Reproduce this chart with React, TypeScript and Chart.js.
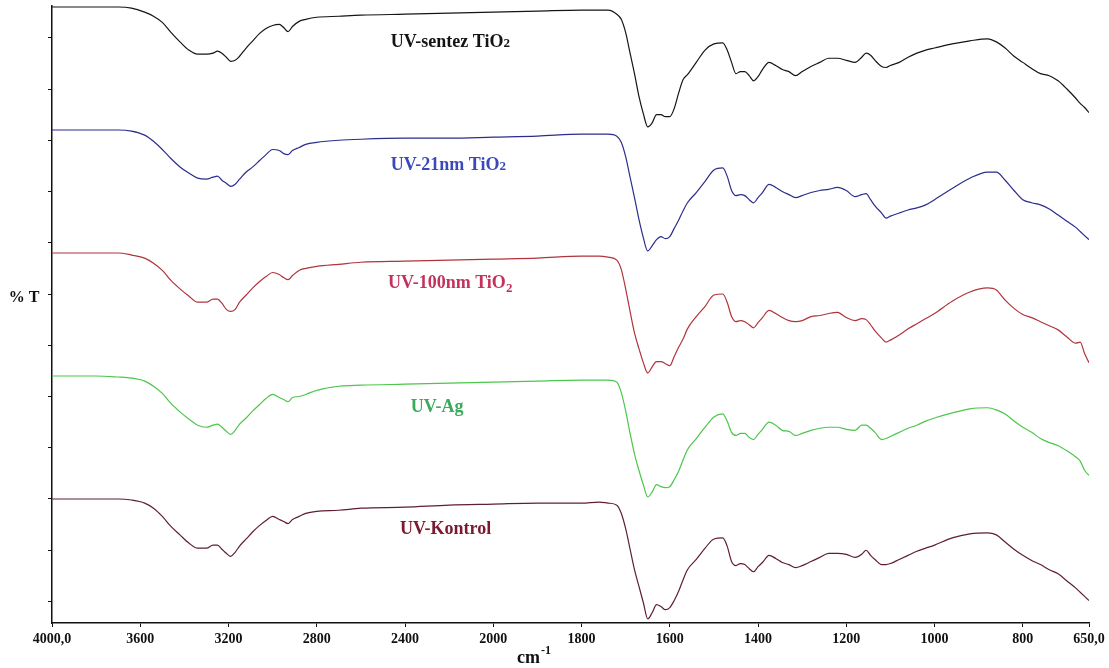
import React, { useEffect, useRef } from "react";
import { Chart, registerables } from "chart.js";

Chart.register(...registerables);

// Wavenumbers (cm-1) at which the spectra were read
const WAVENUMBERS = [
  4000, 3800, 3700, 3640, 3580, 3540, 3500, 3460, 3420, 3380,
  3340, 3300, 3270, 3250, 3230, 3210, 3190, 3170, 3150, 3120,
  3090, 3060, 3030, 3000, 2970, 2950, 2930, 2910, 2880, 2850,
  2800, 2700, 2600, 2400, 2200, 2000, 1900, 1800, 1760, 1740,
  1720, 1710, 1700, 1690, 1680, 1670, 1660, 1650, 1640, 1630,
  1620, 1610, 1600, 1590, 1580, 1570, 1560, 1540, 1520, 1500,
  1480, 1470, 1460, 1450, 1440, 1430, 1420, 1410, 1400, 1390,
  1375, 1360, 1345, 1330, 1315, 1300, 1280, 1260, 1240, 1220,
  1200, 1180, 1165, 1155, 1145, 1135, 1120, 1110, 1100, 1080,
  1060, 1040, 1020, 1000, 960, 920, 880, 860, 840, 820,
  800, 780, 760, 740, 720, 700, 680, 670, 660, 650,
];

// %T (offset-stacked) for each spectrum
const UV_SENTEZ = [
  58.0, 58.0, 58.0, 57.9, 57.5, 57.1, 56.5, 55.5, 54.6, 53.8,
  53.4, 53.4, 53.5, 53.7, 53.5, 53.1, 52.7, 52.8, 53.2, 54.0,
  54.7, 55.4, 55.9, 56.2, 56.3, 56.0, 55.6, 56.1, 56.6, 56.8,
  57.0, 57.1, 57.2, 57.3, 57.4, 57.5, 57.6, 57.7, 57.7, 57.7,
  57.3, 56.8, 55.5, 53.5, 51.5, 49.3, 47.6, 46.3, 46.7, 47.5,
  47.5, 47.3, 47.3, 48.1, 49.6, 50.9, 51.4, 52.6, 53.8, 54.4,
  54.5, 53.8, 52.6, 51.5, 51.7, 51.7, 51.3, 50.8, 51.2, 51.9,
  52.6, 52.3, 51.9, 51.7, 51.3, 51.7, 52.2, 52.6, 53.0, 53.0,
  52.8, 52.6, 53.1, 53.5, 53.3, 52.8, 52.2, 52.1, 52.3, 52.6,
  53.1, 53.5, 53.8, 54.0, 54.4, 54.7, 54.9, 54.6, 54.0, 53.2,
  52.6, 52.0, 51.5, 51.3, 50.8, 50.0, 49.1, 48.6, 48.2, 47.7,
];

const UV_21NM = [
  46.0, 46.0, 46.0, 45.9, 45.5, 44.9, 44.1, 43.2, 42.4, 41.8,
  41.3, 41.2, 41.4, 41.5, 41.1, 40.8, 40.5, 40.7, 41.2, 41.9,
  42.4, 43.0, 43.6, 44.1, 44.0, 43.7, 43.6, 44.0, 44.3, 44.6,
  44.8, 45.0, 45.1, 45.2, 45.2, 45.3, 45.4, 45.6, 45.6, 45.6,
  45.4, 44.8, 43.4, 41.4, 39.4, 37.3, 35.5, 34.2, 34.7, 35.3,
  35.6, 35.4, 35.6, 36.4, 37.2, 38.1, 38.9, 39.9, 41.0, 42.1,
  42.3, 41.5, 40.1, 39.6, 39.7, 39.6, 39.2, 38.9, 39.4, 39.9,
  40.7, 40.4, 40.0, 39.7, 39.4, 39.6, 39.9, 40.1, 40.2, 40.4,
  40.1, 39.5, 39.7, 39.8, 39.2, 38.6, 37.9, 37.4, 37.6, 37.9,
  38.2, 38.4, 38.7, 39.2, 40.3, 41.3, 41.9, 41.9, 41.1, 40.1,
  39.2, 38.9, 38.7, 38.3, 37.7, 37.1, 36.5, 36.1, 35.7, 35.3,
];

const UV_100NM = [
  34.0, 34.0, 34.0, 33.8, 33.5, 33.0, 32.3, 31.3, 30.5, 29.8,
  29.2, 29.2, 29.5, 29.5, 29.1, 28.5, 28.3, 28.5, 29.2, 29.9,
  30.6, 31.2, 31.7, 32.1, 31.9, 31.6, 31.4, 31.8, 32.3, 32.5,
  32.7, 32.9, 33.1, 33.2, 33.3, 33.4, 33.5, 33.7, 33.7, 33.6,
  33.3, 32.4, 30.5, 28.3, 26.2, 24.7, 23.3, 22.3, 22.9, 23.4,
  23.4, 23.2, 23.0, 23.9, 24.8, 25.6, 26.6, 27.8, 28.8, 29.9,
  30.0, 29.2, 27.8, 27.3, 27.4, 27.3, 27.0, 26.7, 27.2, 27.7,
  28.4, 28.1, 27.7, 27.4, 27.3, 27.4, 27.8, 27.9, 28.1, 28.2,
  27.7, 27.4, 27.6, 27.5, 27.0, 26.4, 25.7, 25.3, 25.5, 26.0,
  26.6, 27.1, 27.6, 28.1, 29.3, 30.2, 30.6, 30.4, 29.4, 28.6,
  28.0, 27.7, 27.3, 26.9, 26.5, 25.8, 25.2, 25.3, 24.2, 23.3,
];

const UV_AG = [
  22.0, 22.0, 21.9, 21.8, 21.5, 21.0, 20.3, 19.3, 18.5, 17.8,
  17.2, 17.0, 17.2, 17.3, 17.0, 16.6, 16.3, 16.7, 17.3, 17.9,
  18.6, 19.2, 19.8, 20.2, 19.9, 19.7, 19.5, 19.9, 20.0, 20.2,
  20.6, 21.0, 21.1, 21.2, 21.3, 21.4, 21.5, 21.6, 21.6, 21.6,
  21.4, 20.4, 18.6, 16.4, 14.4, 12.8, 11.4, 10.2, 10.7, 11.4,
  11.2, 11.1, 11.2, 11.9, 12.7, 13.8, 14.8, 15.9, 17.0, 18.0,
  18.3, 17.6, 16.5, 16.2, 16.4, 16.4, 16.0, 15.8, 16.3, 16.8,
  17.5, 17.2, 16.7, 16.6, 16.2, 16.4, 16.7, 16.9, 17.0, 17.0,
  16.8, 16.7, 17.2, 17.2, 16.9, 16.5, 15.8, 15.9, 16.1, 16.5,
  16.9, 17.2, 17.6, 17.9, 18.4, 18.8, 18.9, 18.7, 18.3, 17.6,
  17.0, 16.5, 15.9, 15.5, 15.2, 14.7, 14.1, 13.7, 12.8, 12.3,
];

const UV_KONTROL = [
  10.0, 10.0, 10.0, 9.9, 9.6, 9.1, 8.3, 7.3, 6.5, 5.7,
  5.2, 5.2, 5.5, 5.5, 5.1, 4.7, 4.4, 4.8, 5.4, 6.1,
  6.8, 7.4, 7.9, 8.3, 8.0, 7.8, 7.6, 8.0, 8.3, 8.6,
  8.8, 8.9, 9.1, 9.2, 9.4, 9.5, 9.6, 9.6, 9.7, 9.6,
  9.4, 8.6, 7.1, 5.1, 3.1, 1.5, -0.1, -1.7, -1.1, -0.3,
  -0.5, -0.8, -0.6, 0.1, 1.0, 2.1, 3.1, 4.1, 5.2, 6.1,
  6.2, 5.4, 3.9, 3.5, 3.7, 3.6, 3.2, 2.9, 3.4, 3.8,
  4.5, 4.2, 3.8, 3.6, 3.3, 3.5, 3.9, 4.3, 4.7, 4.7,
  4.6, 4.3, 4.6, 5.0, 4.5, 4.1, 3.6, 3.6, 3.7, 4.1,
  4.5, 4.9, 5.2, 5.5, 6.2, 6.6, 6.7, 6.5, 5.8, 5.1,
  4.5, 4.0, 3.6, 3.1, 2.7, 2.0, 1.3, 0.9, 0.5, 0.1,
];

const SERIES_NAMES = ["UV-sentez TiO2", "UV-21nm TiO2", "UV-100nm TiO2", "UV-Ag", "UV-Kontrol"];
const SERIES_VALUES = [UV_SENTEZ, UV_21NM, UV_100NM, UV_AG, UV_KONTROL];
const LINE_COLORS = ["#151515", "#2b2d8c", "#b0343c", "#4cc64c", "#5e1f30"];

// Text labels of the spectra: main text, subscript, anchor (wavenumber, %T)
const LABEL_TEXTS = ["UV-sentez TiO", "UV-21nm TiO", "UV-100nm TiO", "UV-Ag", "UV-Kontrol"];
const LABEL_SUBS = ["2", "2", "2", "", ""];
const LABEL_WN = [2465, 2465, 2477, 2374, 2423];
const LABEL_T = [54.1, 42.1, 30.6, 18.5, 6.6];
const LABEL_COLORS = ["#141414", "#3a48bc", "#c4325c", "#3aab5c", "#7a1a30"];

// Axis ticks
const X_TICKS = [4000, 3600, 3200, 2800, 2400, 2000, 1800, 1600, 1400, 1200, 1000, 800, 650];
const X_TICK_LABELS = ["4000,0", "3600", "3200", "2800", "2400", "2000", "1800", "1600", "1400", "1200", "1000", "800", "650,0"];
const Y_TICKS = [0, 5, 10, 15, 20, 25, 30, 35, 40, 45, 50, 55];
const Y_MIN = -2.1;
const Y_MAX = 58.1;
const Y_TITLE_AT = 29.6;
const X_TITLE_AT = 1946;

// FTIR axis with a scale change at 2000 cm-1 (400 cm-1 per division above, 200 below)
const BREAK = 2000;
const toAxis = (w: number) => (w >= BREAK ? (4000 - w) / 400 : 5 + (BREAK - w) / 200);

const FONT = '"Liberation Serif", "Times New Roman", serif';

const textPlugin = {
  id: "ftirText",
  afterDraw(chart: any) {
    const { ctx, chartArea } = chart;
    const x = chart.scales.x;
    const y = chart.scales.y;
    ctx.save();
    ctx.textAlign = "left";
    ctx.textBaseline = "alphabetic";
    LABEL_TEXTS.forEach((t, i) => {
      const px = x.getPixelForValue(toAxis(LABEL_WN[i]));
      const py = y.getPixelForValue(LABEL_T[i]);
      ctx.fillStyle = LABEL_COLORS[i];
      ctx.font = `bold 18px ${FONT}`;
      ctx.fillText(t, px, py);
      if (LABEL_SUBS[i]) {
        const w = ctx.measureText(t).width;
        ctx.font = `bold 13px ${FONT}`;
        ctx.fillText(LABEL_SUBS[i], px + w, py + (i === 2 ? 4 : 0));
      }
    });
    // y axis title
    ctx.fillStyle = "#111";
    ctx.font = `bold 16px ${FONT}`;
    ctx.textAlign = "center";
    ctx.textBaseline = "middle";
    ctx.fillText("% T", chartArea.left - 28, y.getPixelForValue(Y_TITLE_AT));
    // x axis title
    ctx.textAlign = "left";
    ctx.textBaseline = "alphabetic";
    ctx.font = `bold 18px ${FONT}`;
    const cx = x.getPixelForValue(toAxis(X_TITLE_AT));
    const cy = chart.height - 5;
    ctx.fillText("cm", cx, cy);
    const cw = ctx.measureText("cm").width;
    ctx.font = `bold 12px ${FONT}`;
    ctx.fillText("-1", cx + cw + 1, cy - 9);
    ctx.restore();
  },
};

export default function App() {
  const ref = useRef<HTMLCanvasElement | null>(null);

  useEffect(() => {
    if (!ref.current) return;
    const datasets = SERIES_NAMES.map((name, s) => ({
      label: name,
      data: WAVENUMBERS.map((w, i) => ({ x: toAxis(w), y: SERIES_VALUES[s][i] })),
      borderColor: LINE_COLORS[s],
      backgroundColor: LINE_COLORS[s],
      borderWidth: 1.2,
      pointRadius: 0,
      fill: false,
      cubicInterpolationMode: "monotone" as const,
    }));
    const chart = new Chart(ref.current, {
      type: "line",
      data: { datasets },
      options: {
        animation: false,
        responsive: false,
        maintainAspectRatio: false,
        layout: { padding: { top: 6, right: 20, left: 0, bottom: 0 } },
        plugins: { legend: { display: false }, tooltip: { enabled: false } },
        scales: {
          x: {
            type: "linear",
            min: 0,
            max: toAxis(650),
            afterBuildTicks: (s: any) => {
              s.ticks = X_TICKS.map((w) => ({ value: toAxis(w) }));
            },
            afterFit: (s: any) => {
              s.height = 45;
            },
            ticks: {
              callback: (_v: any, i: number) => X_TICK_LABELS[i],
              font: { family: FONT, size: 14, weight: "bold" },
              color: "#111",
              padding: 4,
              maxRotation: 0,
              autoSkip: false,
            },
            grid: { drawOnChartArea: false, drawTicks: true, tickLength: 4, color: "#111" },
            border: { display: true, color: "#111", width: 1.5 },
          },
          y: {
            type: "linear",
            min: Y_MIN,
            max: Y_MAX,
            afterBuildTicks: (s: any) => {
              s.ticks = Y_TICKS.map((v) => ({ value: v }));
            },
            afterFit: (s: any) => {
              s.width = 52;
            },
            ticks: { display: false },
            grid: { drawOnChartArea: false, drawTicks: true, tickLength: 4, color: "#111" },
            border: { display: true, color: "#111", width: 1.5 },
          },
        },
      },
      plugins: [textPlugin],
    } as any);
    return () => chart.destroy();
  }, []);

  return (
    <div style={{ position: "absolute", left: 0, top: 0, width: 1109, height: 668, background: "#fff" }}>
      <canvas ref={ref} width={1109} height={668} style={{ display: "block" }} />
    </div>
  );
}
